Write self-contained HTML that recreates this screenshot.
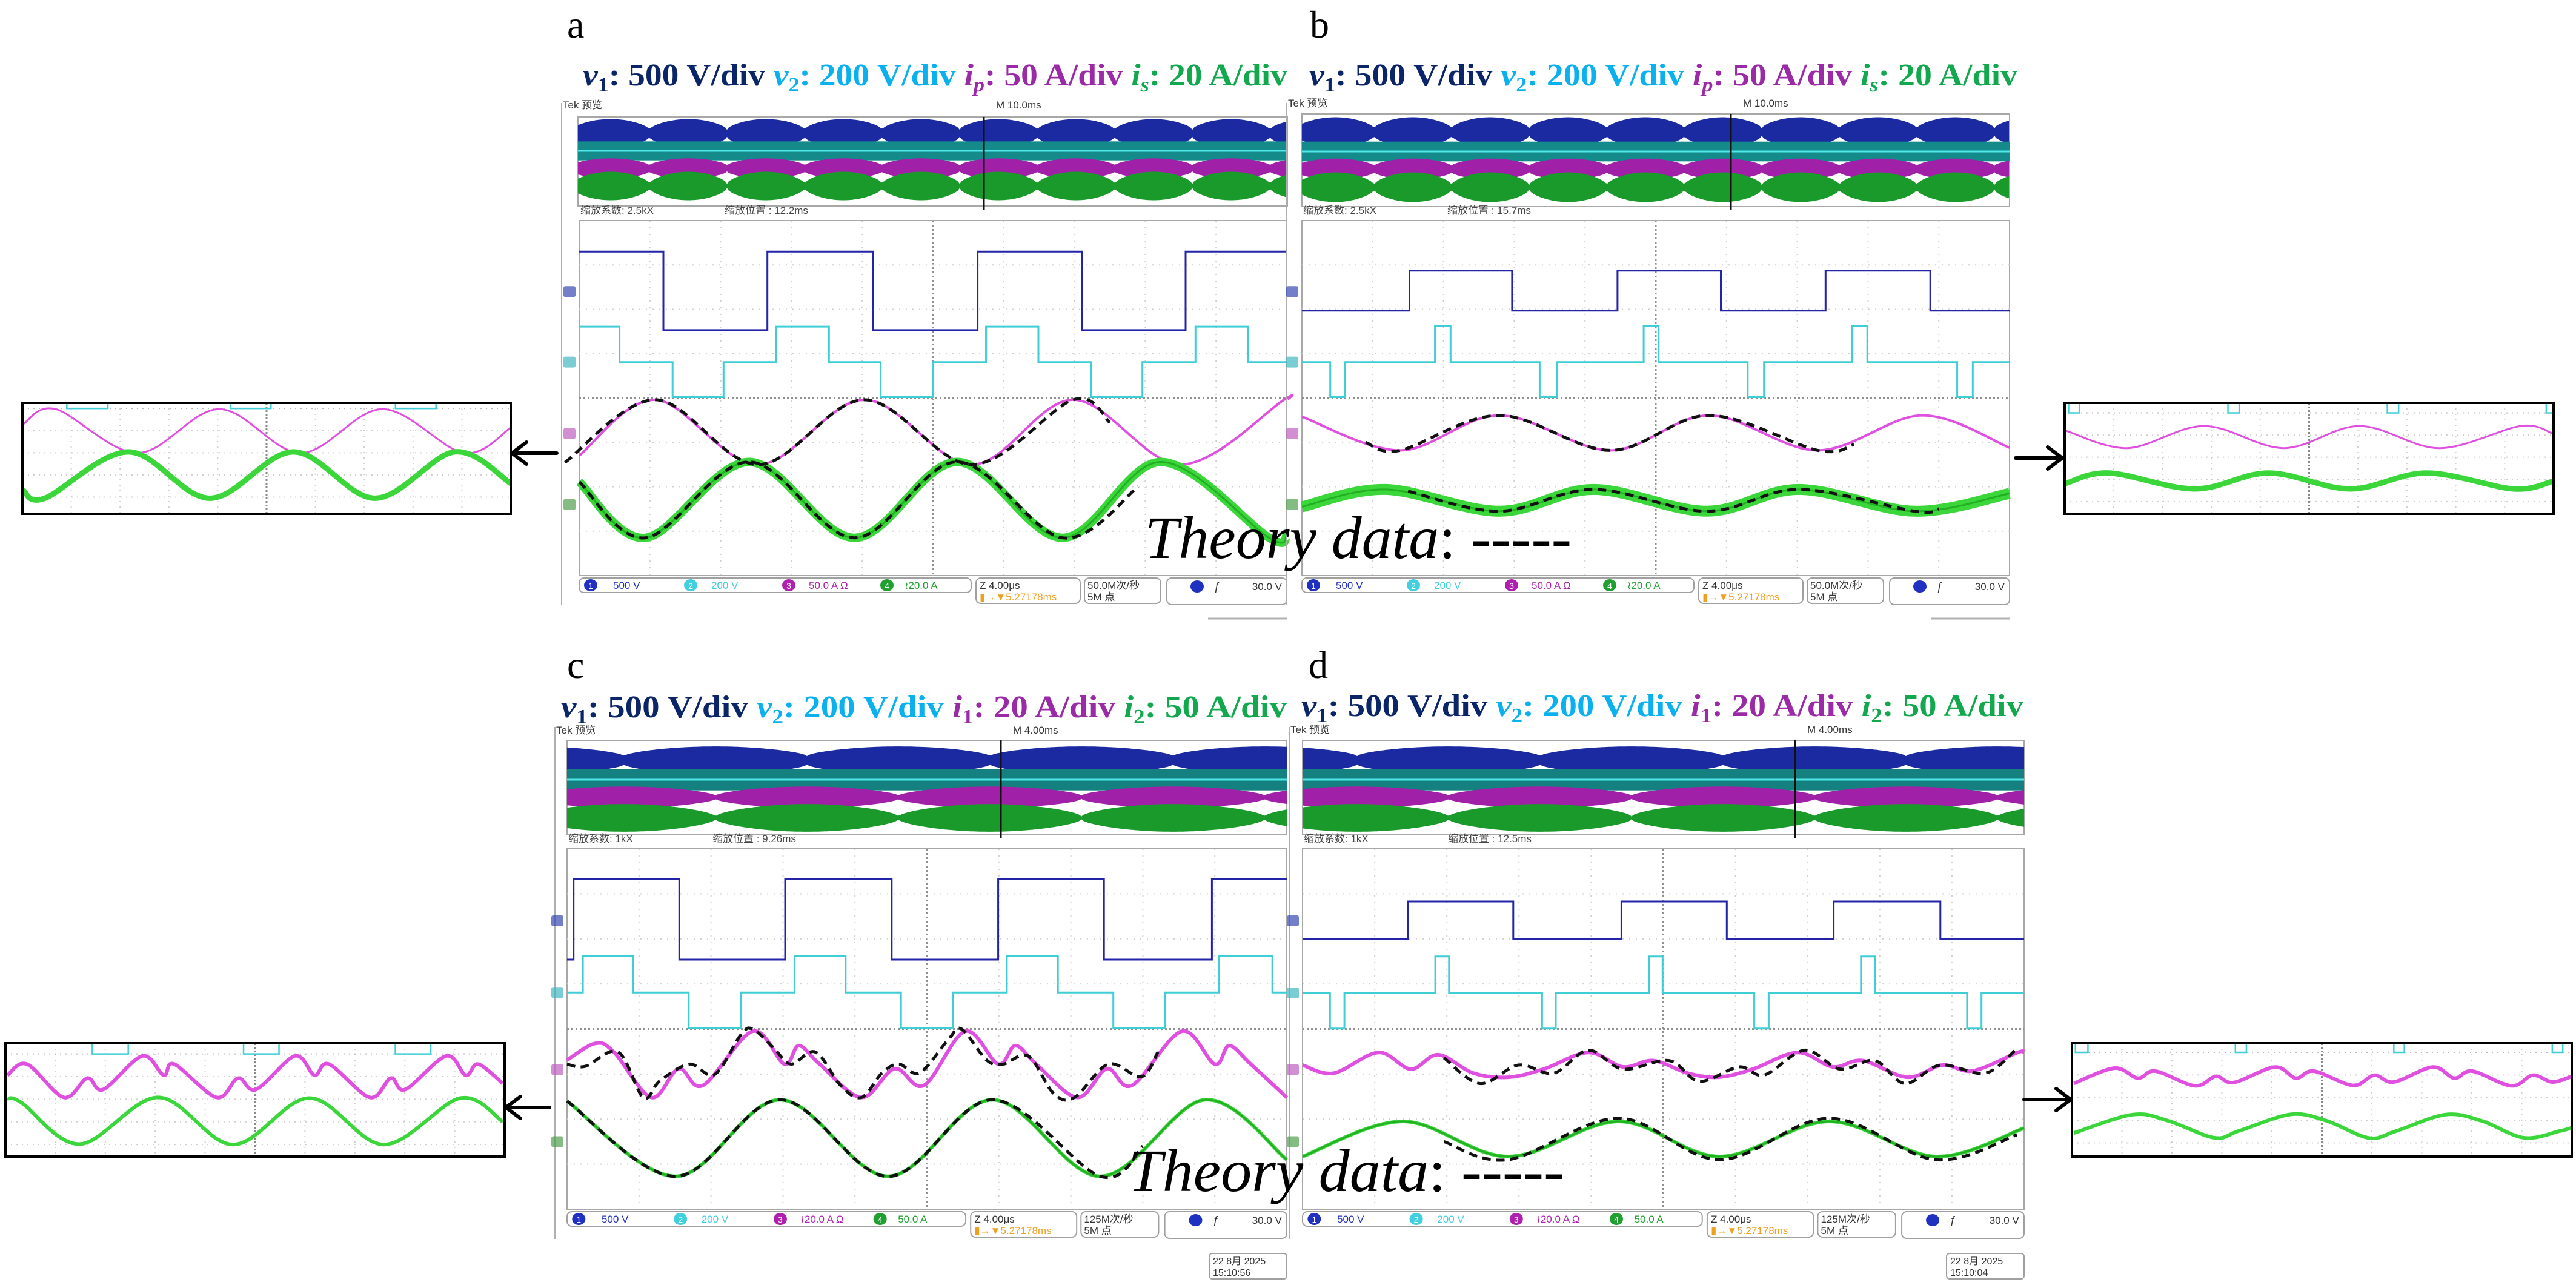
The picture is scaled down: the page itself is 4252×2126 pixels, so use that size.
<!DOCTYPE html>
<html><head><meta charset="utf-8"><title>Oscilloscope waveforms a-d</title>
<style>
html,body{margin:0;padding:0;background:#fff;}
svg{display:block;}
</style></head>
<body>
<svg id="fig" xmlns="http://www.w3.org/2000/svg" width="4252" height="2126" viewBox="0 0 4252 2126">
<rect x="0" y="0" width="4252" height="2126" fill="#fff"/>
<g font-family="'Liberation Serif', serif">
<text x="936" y="62" font-size="64">a</text>
<text x="2162" y="62" font-size="64">b</text>
<text x="936" y="1119" font-size="64">c</text>
<text x="2160" y="1119" font-size="64">d</text>
</g>
<g font-family="'Liberation Serif', serif" font-weight="bold" font-size="52">
<text x="962" y="141" textLength="1163" lengthAdjust="spacingAndGlyphs"><tspan fill="#0b2668" font-style="italic">v</tspan><tspan fill="#0b2668" font-size="34" dy="10">1</tspan><tspan fill="#0b2668" dy="-10">: 500 V/div </tspan><tspan fill="#0bb0ee" font-style="italic">v</tspan><tspan fill="#0bb0ee" font-size="34" dy="10">2</tspan><tspan fill="#0bb0ee" dy="-10">: 200 V/div </tspan><tspan fill="#9a2aa6" font-style="italic">i</tspan><tspan fill="#9a2aa6" font-size="34" font-style="italic" dy="10">p</tspan><tspan fill="#9a2aa6" dy="-10">: 50 A/div </tspan><tspan fill="#12a84e" font-style="italic">i</tspan><tspan fill="#12a84e" font-size="34" font-style="italic" dy="10">s</tspan><tspan fill="#12a84e" dy="-10">: 20 A/div</tspan></text>
<text x="2161" y="141" textLength="1169" lengthAdjust="spacingAndGlyphs"><tspan fill="#0b2668" font-style="italic">v</tspan><tspan fill="#0b2668" font-size="34" dy="10">1</tspan><tspan fill="#0b2668" dy="-10">: 500 V/div </tspan><tspan fill="#0bb0ee" font-style="italic">v</tspan><tspan fill="#0bb0ee" font-size="34" dy="10">2</tspan><tspan fill="#0bb0ee" dy="-10">: 200 V/div </tspan><tspan fill="#9a2aa6" font-style="italic">i</tspan><tspan fill="#9a2aa6" font-size="34" font-style="italic" dy="10">p</tspan><tspan fill="#9a2aa6" dy="-10">: 50 A/div </tspan><tspan fill="#12a84e" font-style="italic">i</tspan><tspan fill="#12a84e" font-size="34" font-style="italic" dy="10">s</tspan><tspan fill="#12a84e" dy="-10">: 20 A/div</tspan></text>
<text x="926" y="1184" textLength="1198" lengthAdjust="spacingAndGlyphs"><tspan fill="#0b2668" font-style="italic">v</tspan><tspan fill="#0b2668" font-size="34" dy="10">1</tspan><tspan fill="#0b2668" dy="-10">: 500 V/div </tspan><tspan fill="#0bb0ee" font-style="italic">v</tspan><tspan fill="#0bb0ee" font-size="34" dy="10">2</tspan><tspan fill="#0bb0ee" dy="-10">: 200 V/div </tspan><tspan fill="#9a2aa6" font-style="italic">i</tspan><tspan fill="#9a2aa6" font-size="34" dy="10">1</tspan><tspan fill="#9a2aa6" dy="-10">: 20 A/div </tspan><tspan fill="#12a84e" font-style="italic">i</tspan><tspan fill="#12a84e" font-size="34" dy="10">2</tspan><tspan fill="#12a84e" dy="-10">: 50 A/div</tspan></text>
<text x="2148" y="1182" textLength="1192" lengthAdjust="spacingAndGlyphs"><tspan fill="#0b2668" font-style="italic">v</tspan><tspan fill="#0b2668" font-size="34" dy="10">1</tspan><tspan fill="#0b2668" dy="-10">: 500 V/div </tspan><tspan fill="#0bb0ee" font-style="italic">v</tspan><tspan fill="#0bb0ee" font-size="34" dy="10">2</tspan><tspan fill="#0bb0ee" dy="-10">: 200 V/div </tspan><tspan fill="#9a2aa6" font-style="italic">i</tspan><tspan fill="#9a2aa6" font-size="34" dy="10">1</tspan><tspan fill="#9a2aa6" dy="-10">: 20 A/div </tspan><tspan fill="#12a84e" font-style="italic">i</tspan><tspan fill="#12a84e" font-size="34" dy="10">2</tspan><tspan fill="#12a84e" dy="-10">: 50 A/div</tspan></text>
</g>
<g id="layer"></g>
<g font-family="'Liberation Serif', serif" font-size="100" fill="#000">
<text x="1890" y="921" textLength="704" lengthAdjust="spacingAndGlyphs"><tspan font-style="italic">Theory data</tspan><tspan>: -----</tspan></text>
<text x="1862" y="1966" textLength="720" lengthAdjust="spacingAndGlyphs"><tspan font-style="italic">Theory data</tspan><tspan>: -----</tspan></text>
</g>
</svg>
<script>
// ===== Data (grid divisions: x 0..10, y 0..8 from top) =====
// Panel a
const aV1T=[0,1.19,2.66,4.15,5.63,7.11,8.57];
const aV1Y=[0.70,2.47,0.70,2.47,0.70,2.47,0.70];
const aV2T=[0,0.57,1.32,2.04,2.78,3.53,4.26,5.0,5.75,6.49,7.23,7.96,8.71,9.45];
const aV2Y=[2.39,3.19,3.98,3.19,2.39,3.19,3.98,3.19,2.39,3.19,3.98,3.19,2.39,3.19];
const aIpX=[0,1.08,2.53,4.03,5.55,6.98,8.5,9.96,10];
const aIpY=[5.3,4.04,5.5,4.04,5.5,4.04,5.5,4.04,4.05];
const aIsX=[0,0.94,2.40,3.89,5.34,6.83,8.22,9.75,10];
const aIsY=[5.89,7.15,5.44,7.15,5.44,7.15,5.44,7.15,7.1];
const aThIpX=[-0.2,1.08,2.53,4.03,5.55,6.98,7.5];
const aThIpY=[5.45,4.04,5.5,4.04,5.5,4.04,4.55];
const aThIsX=[0,0.94,2.40,3.89,5.34,6.83,7.9];
const aThIsY=[5.89,7.15,5.44,7.15,5.44,7.15,6.0];
// Panel b
const bV1T=[0,1.52,2.97,4.46,5.92,7.40,8.88];
const bV1Y=[2.03,1.13,2.03,1.13,2.03,1.13,2.03];
const bV2T=[0,0.40,0.61,1.88,2.10,3.36,3.60,4.83,5.04,6.30,6.53,7.77,7.99,9.26,9.48];
const bV2Y=[3.19,3.98,3.19,2.37,3.19,3.98,3.19,2.37,3.19,3.98,3.19,2.37,3.19,3.98,3.19];
const bIpX=[0,1.39,2.79,4.36,5.75,7.29,8.76,10];
const bIpY=[4.42,5.18,4.39,5.18,4.39,5.18,4.39,5.12];
const bIsX=[0,1.18,2.79,4.12,5.72,7.02,8.66,10];
const bIsY=[6.45,6.06,6.55,6.06,6.55,6.06,6.55,6.15];
const bThIpX=[0.9,1.39,2.79,4.36,5.75,7.29,7.8];
const bThIpY=[5.0,5.18,4.39,5.18,4.39,5.18,5.05];
const bThIsX=[1.5,2.79,4.12,5.72,7.02,8.66,9.0];
const bThIsY=[6.1,6.55,6.06,6.55,6.06,6.55,6.5];
// Panel c
const cV1T=[0,0.09,1.56,3.03,4.51,5.99,7.46,8.96];
const cV1Y=[2.46,0.67,2.46,0.67,2.46,0.67,2.46,0.67];
const cV2T=[0,0.22,0.92,1.69,2.42,3.16,3.87,4.64,5.36,6.11,6.82,7.59,8.31,9.06,9.8];
const cV2Y=[3.19,2.38,3.19,3.98,3.19,2.38,3.19,3.98,3.19,2.38,3.19,3.98,3.19,2.38,3.19];
const cI1X=[0,0.39,0.65,1.17,1.55,1.89,2.58,3.02,3.22,3.51,4.09,4.55,4.96,5.53,5.99,6.23,6.52,7.09,7.5,7.85,8.54,9.0,9.2,9.5,10.0];
const cI1Y=[4.69,4.32,4.51,5.52,4.88,5.25,4.05,4.78,4.37,4.78,5.52,4.88,5.25,4.05,4.78,4.37,4.78,5.52,4.88,5.25,4.05,4.78,4.37,4.78,5.52];
const cThI1X=[0,0.25,0.71,1.06,1.29,1.70,2.05,2.41,2.58,2.87,3.11,3.45,3.80,4.09,4.38,4.61,4.90,5.30,5.48,5.83,6.06,6.41,6.76,7.05,7.52,7.98,8.21];
const cThI1Y=[4.78,4.83,4.51,5.52,5.15,4.78,5.01,4.14,4.0,4.42,4.78,4.51,5.25,5.52,4.97,4.78,4.97,4.23,4.0,4.69,4.78,4.6,5.43,5.52,4.78,5.06,4.51];
const cI2X=[0,1.51,2.96,4.46,5.91,7.41,8.86,10];
const cI2Y=[5.6,7.27,5.57,7.27,5.57,7.27,5.57,6.9];
const cThI2X=[0,1.51,2.96,4.46,5.91,7.41,8.0];
const cThI2Y=[5.6,7.27,5.57,7.27,5.57,7.27,6.6];
// Panel d
const dV1T=[0,1.46,2.92,4.42,5.88,7.36,8.84];
const dV1Y=[2.0,1.17,2.0,1.17,2.0,1.17,2.0];
const dV2T=[0,0.38,0.58,1.84,2.03,3.32,3.51,4.80,4.99,6.26,6.46,7.74,7.93,9.21,9.41];
const dV2Y=[3.2,3.99,3.2,2.39,3.2,3.99,3.2,2.39,3.2,3.99,3.2,2.39,3.2,3.99,3.2];
const dI1X=[0,0.43,1.05,1.50,1.88,2.37,2.85,3.34,3.96,4.44,4.86,5.34,5.76,6.24,6.86,7.35,7.76,8.38,8.87,9.29,9.91,10];
const dI1Y=[4.80,4.98,4.52,4.89,4.57,4.98,5.07,4.89,4.52,4.84,4.70,4.98,5.07,4.89,4.52,4.84,4.70,5.07,4.80,4.93,4.52,4.52];
const dThI1X=[1.96,2.46,2.99,3.48,3.96,4.44,5.08,5.50,6.05,6.40,6.96,7.45,7.93,8.35,8.84,9.46,9.88];
const dThI1Y=[4.64,5.21,4.80,4.98,4.47,4.89,4.70,5.16,4.84,5.02,4.47,4.89,4.70,5.21,4.80,4.98,4.47];
const dI2X=[0,1.39,2.85,4.38,5.78,7.30,8.77,10];
const dI2Y=[6.83,6.05,6.83,6.05,6.83,6.05,6.83,6.2];
const dThI2X=[1.96,2.85,4.38,5.78,7.30,8.77,9.9];
const dThI2Y=[6.5,6.9,5.98,6.9,5.98,6.9,6.35];
// Insets (divisions: x 0..10, y 0..5)
const aInsPX=[0.02,0.68,2.36,4.03,5.7,7.37,9.04,10];
const aInsPY=[0.95,0.28,2.26,0.28,2.26,0.28,2.26,1.12];
const aInsGX=[0.02,0.46,2.17,3.84,5.55,7.22,8.85,10];
const aInsGY=[3.96,4.3,2.21,4.3,2.21,4.3,2.21,3.63];
const aInsCS=[0.91,4.26,7.64];
const aInsCE=[1.75,5.09,8.47];
const aInsCL=[0.25,0.25,0.25];
const bInsPX=[0.02,1.29,2.85,4.48,6.03,7.66,9.33,9.98];
const bInsPY=[1.25,2.04,1.04,2.04,1.04,2.04,1.04,1.38];
const bInsGX=[0.02,0.91,2.66,4.17,5.84,7.4,9.18,9.98];
const bInsGY=[3.63,3.16,3.88,3.16,3.88,3.16,3.88,3.54];
const bInsCS=[0.08,3.34,6.6,9.85];
const bInsCE=[0.3,3.57,6.83,9.98];
const bInsCL=[0.45,0.45,0.45,0.45];
const cInsPX=[0.04,0.43,1.17,1.64,1.96,2.74,3.17,3.38,4.23,4.66,5.02,5.8,6.19,6.48,7.3,7.72,8.01,8.83,9.22,9.47,9.96];
const cInsPY=[1.41,0.92,2.39,1.54,2.04,0.56,1.41,0.92,2.39,1.54,2.04,0.56,1.41,0.92,2.39,1.54,2.04,0.56,1.41,0.92,1.77];
const cInsGX=[0.04,0.32,1.49,3.06,4.56,6.09,7.58,9.11,9.96];
const cInsGY=[2.44,2.62,4.45,2.39,4.47,2.42,4.47,2.42,3.46];
const cInsCS=[1.74,4.77,7.81];
const cInsCE=[2.46,5.48,8.52];
const cInsCL=[0.47,0.47,0.47];
const dInsPX=[0.04,0.85,1.32,1.67,2.46,2.88,3.24,4.06,4.48,4.84,5.62,6.05,6.44,7.22,7.65,8.01,8.79,9.22,9.61,10];
const dInsPY=[1.77,1.10,1.54,1.23,1.88,1.46,1.73,1.05,1.54,1.23,1.86,1.41,1.71,1.05,1.54,1.23,1.88,1.41,1.71,1.46];
const dInsGX=[0.04,1.21,1.92,2.85,3.35,4.38,5.09,5.94,6.48,7.47,8.19,9.04,9.75,10];
const dInsGY=[3.96,3.15,3.42,4.17,3.86,3.14,3.42,4.18,3.88,3.15,3.42,4.17,3.88,3.73];
const dInsCS=[0.07,3.27,6.44,9.61];
const dInsCE=[0.32,3.49,6.65,9.82];
const dInsCL=[0.40,0.40,0.40,0.40];

// ===== rendering =====
const NS='http://www.w3.org/2000/svg';
const layer=document.getElementById('layer');
function mk(tag,attrs,parent){const e=document.createElementNS(NS,tag);for(const k in attrs)e.setAttribute(k,attrs[k]);(parent||layer).appendChild(e);return e;}
function crPath(pts){
  let d='M'+pts[0][0].toFixed(1)+','+pts[0][1].toFixed(1);
  for(let i=0;i<pts.length-1;i++){
    const p0=pts[Math.max(0,i-1)],p1=pts[i],p2=pts[i+1],p3=pts[Math.min(pts.length-1,i+2)];
    const c1=[p1[0]+(p2[0]-p0[0])/6,p1[1]+(p2[1]-p0[1])/6];
    const c2=[p2[0]-(p3[0]-p1[0])/6,p2[1]-(p3[1]-p1[1])/6];
    d+=' C'+c1[0].toFixed(1)+','+c1[1].toFixed(1)+' '+c2[0].toFixed(1)+','+c2[1].toFixed(1)+' '+p2[0].toFixed(1)+','+p2[1].toFixed(1);
  }
  return d;
}
function axes(gx,gy,gw,gh,nx,ny){return {x:v=>gx+v*gw/nx,y:v=>gy+v*gh/ny};}

const COL={v1:'#2424a8',v2:'#3fcdd6',ip:'#e050e0',is:'#3ad63a',isDark:'#22b022'};

const PANELS=[
 {id:'a',gx:956,gy:364,gw:1168,gh:586,frameX:927,top:170,ov:{x0:954,x1:2125,y0:193,y1:340,rows:[220,249,278,307],per:128,ph:944,long:false},mark:1624,tekY:179,zoomY:353,bar:954,M:'M 10.0ms',zf:'2.5kX',zp:'12.2ms',rate:'50.0M次/秒',c3:'50.0 A Ω',c4:'≀20.0 A',date:null,
  v1:[aV1T,aV1Y],v2:[aV2T,aV2Y],i1:[aIpX,aIpY],i2:[aIsX,aIsY],t1:[aThIpX,aThIpY],t2:[aThIsX,aThIsY],mk:[1.6,3.19,4.8,6.4],noisy:true},
 {id:'b',gx:2149,gy:364,gw:1168,gh:586,frameX:2124,top:170,ov:{x0:2149,x1:3317,y0:188,y1:341,rows:[218,250,279,309],per:128,ph:2140,long:false},mark:2857,tekY:176,zoomY:353,bar:954,M:'M 10.0ms',zf:'2.5kX',zp:'15.7ms',rate:'50.0M次/秒',c3:'50.0 A Ω',c4:'≀20.0 A',date:null,
  v1:[bV1T,bV1Y],v2:[bV2T,bV2Y],i1:[bIpX,bIpY],i2:[bIsX,bIsY],t1:[bThIpX,bThIpY],t2:[bThIsX,bThIsY],mk:[1.6,3.19,4.8,6.4],noisy:true},
 {id:'c',gx:936,gy:1401,gw:1188,gh:595,frameX:916,top:1200,ov:{x0:936,x1:2124,y0:1222,y1:1378,rows:[1255,1287,1316,1350],per:302,ph:1030,long:true},mark:1652,tekY:1211,zoomY:1390,bar:2000,M:'M 4.00ms',zf:'1kX',zp:'9.26ms',rate:'125M次/秒',c3:'≀20.0 A Ω',c4:'50.0 A',date:'15:10:56',
  v1:[cV1T,cV1Y],v2:[cV2T,cV2Y],i1:[cI1X,cI1Y],i2:[cI2X,cI2Y],t1:[cThI1X,cThI1Y],t2:[cThI2X,cThI2Y],mk:[1.6,3.19,4.9,6.5],noisy:false},
 {id:'d',gx:2150,gy:1401,gw:1191,gh:595,frameX:2128,top:1200,ov:{x0:2150,x1:3341,y0:1222,y1:1378,rows:[1255,1287,1316,1350],per:302,ph:2240,long:true},mark:2963,tekY:1210,zoomY:1390,bar:2000,M:'M 4.00ms',zf:'1kX',zp:'12.5ms',rate:'125M次/秒',c3:'≀20.0 A Ω',c4:'50.0 A',date:'15:10:04',
  v1:[dV1T,dV1Y],v2:[dV2T,dV2Y],i1:[dI1X,dI1Y],i2:[dI2X,dI2Y],t1:[dThI1X,dThI1Y],t2:[dThI2X,dThI2Y],mk:[1.6,3.2,4.9,6.5],noisy:false}
];

function lobe(g,x0,x1,yc,amp,per,ph,minF,color,name){
  let top=[],bot=[];
  for(let x=x0;x<=x1;x+=3){
    const s=Math.abs(Math.sin(Math.PI*(x-ph)/per));
    const a=amp*(minF+(1-minF)*Math.pow(s,0.6));
    top.push(x.toFixed(0)+','+(yc-a).toFixed(1));bot.unshift(x.toFixed(0)+','+(yc+a).toFixed(1));
  }
  const p=mk('polygon',{points:top.concat(bot).join(' '),fill:color},g);
  
  
}

function stepPath(ax,T,Y){
  let d='M'+ax.x(T[0]).toFixed(1)+','+ax.y(Y[0]).toFixed(1);
  for(let i=1;i<T.length;i++){d+=' H'+ax.x(T[i]).toFixed(1)+' V'+ax.y(Y[i]).toFixed(1);}
  d+=' H'+ax.x(10).toFixed(1);
  return d;
}
function pts(ax,X,Y){return X.map((v,i)=>[ax.x(v),ax.y(Y[i])]);}

function txt(g,x,y,s,size,color,name,anchor){
  const t=mk('text',{x:x,y:y,'font-size':size,fill:color,'font-family':"'Liberation Sans','Noto Sans CJK SC',sans-serif"},g);
  if(anchor)t.setAttribute('text-anchor',anchor);
  t.textContent=s;
  
  
  return t;
}

PANELS.forEach(P=>{
  const g=mk('g',{});
  
  
  const ax=axes(P.gx,P.gy,P.gw,P.gh,10,8);
  const fl=mk('line',{x1:P.frameX,y1:P.top,x2:P.frameX,y2:P.bar+45,stroke:'#b0b0b0','stroke-width':2},g);
  
  
  txt(g,P.frameX+2,P.tekY,'Tek 预览',17,'#333','tek-label-'+P.id);
  txt(g,P.mark+20,P.tekY,P.M,17,'#333','timebase-'+P.id);
  const o=P.ov;
  const ob=mk('rect',{x:o.x0,y:o.y0,width:o.x1-o.x0,height:o.y1-o.y0,fill:'#fff',stroke:'#a8a8a8','stroke-width':2},g);
  
  
  const hs=(o.y1-o.y0)/150;
  if(!o.long){
    lobe(g,o.x0,o.x1,o.rows[0],24*hs,o.per,o.ph,0.25,'#1b2aa0','overview-v1');
    const tb=mk('rect',{x:o.x0,y:o.rows[1]-16*hs,width:o.x1-o.x0,height:32*hs,fill:'#148a8a'},g);
    
    
    lobe(g,o.x0,o.x1,o.rows[2],17*hs,o.per,o.ph,0.3,'#a020a8','overview-i1');
    lobe(g,o.x0,o.x1,o.rows[3],24*hs,o.per,o.ph,0.15,'#1a9a2a','overview-i2');
  } else {
    lobe(g,o.x0,o.x1,o.rows[0],22*hs,o.per,o.ph,0.3,'#1b2aa0','overview-v1');
    const tb=mk('rect',{x:o.x0,y:o.rows[1]-17*hs,width:o.x1-o.x0,height:34*hs,fill:'#148080'},g);
    
    
    lobe(g,o.x0,o.x1,o.rows[2],17*hs,o.per,o.ph+o.per/2,0.15,'#a020a8','overview-i1');
    lobe(g,o.x0,o.x1,o.rows[3],22*hs,o.per,o.ph+o.per/2,0.1,'#1a9a2a','overview-i2');
  }
  const cl=mk('line',{x1:o.x0,x2:o.x1,y1:o.rows[1],y2:o.rows[1],stroke:'#4ee8e8','stroke-width':3},g);
  
  
  const ml=mk('line',{x1:P.mark,x2:P.mark,y1:o.y0,y2:o.y1+6,stroke:'#111','stroke-width':3},g);
  
  
  txt(g,P.gx+2,P.zoomY,'缩放系数: '+P.zf,17,'#444','zoom-factor-'+P.id);
  txt(g,P.gx+240,P.zoomY,'缩放位置 :  '+P.zp,17,'#444','zoom-position-'+P.id);
  const gb=mk('rect',{x:P.gx,y:P.gy,width:P.gw,height:P.gh,fill:'#fff',stroke:'#a8a8a8','stroke-width':2},g);
  
  
  for(let i=1;i<10;i++){
    const c=i===5;
    const l=mk('line',{x1:ax.x(i),x2:ax.x(i),y1:P.gy,y2:P.gy+P.gh,stroke:c?'#909090':'#cfcfcf','stroke-width':c?3:2,'stroke-dasharray':c?'3 4':'2 9'},g);
    
    
  }
  for(let j=1;j<8;j++){
    const c=j===4;
    const l=mk('line',{x1:P.gx,x2:P.gx+P.gw,y1:ax.y(j),y2:ax.y(j),stroke:c?'#909090':'#cfcfcf','stroke-width':c?3:2,'stroke-dasharray':c?'3 4':'2 9'},g);
    
    
  }
  const mcols=['#3848b0','#40b8c0','#c060c0','#50a050'];
  P.mk.forEach((m,k)=>{
    const r=mk('rect',{x:P.gx-26,y:ax.y(m)-9,width:20,height:18,rx:3,fill:mcols[k],opacity:0.7},g);
    
    
  });
  const t1=mk('path',{d:stepPath(ax,P.v1[0],P.v1[1]),fill:'none',stroke:COL.v1,'stroke-width':3},g);
  
  
  const t2=mk('path',{d:stepPath(ax,P.v2[0],P.v2[1]),fill:'none',stroke:COL.v2,'stroke-width':3},g);
  
  
  const i1=mk('path',{d:crPath(pts(ax,P.i1[0],P.i1[1])),fill:'none',stroke:COL.ip,'stroke-width':(P.id==='c'||P.id==='d')?6:4},g);
  
  
  const i2=mk('path',{d:crPath(pts(ax,P.i2[0],P.i2[1])),fill:'none',stroke:COL.is,'stroke-width':P.noisy?(P.id==='a'?14:18):6},g);
  
  
  const i2c=mk('path',{d:crPath(pts(ax,P.i2[0],P.i2[1])),fill:'none',stroke:COL.isDark,'stroke-width':3},g);
  
  
  const th1=mk('path',{d:crPath(pts(ax,P.t1[0],P.t1[1])),fill:'none',stroke:'#111','stroke-width':5,'stroke-dasharray':'14 9'},g);
  
  
  const th2=mk('path',{d:crPath(pts(ax,P.t2[0],P.t2[1])),fill:'none',stroke:'#111','stroke-width':5,'stroke-dasharray':'14 9'},g);
  
  
  const s=P.gw/1168, B=P.bar;
  const boxes=[[0,647,24],[655,827,42],[834,960,42],[970,1168,44]];
  boxes.forEach((bx,k)=>{
    const r=mk('rect',{x:P.gx+bx[0]*s,y:B,width:(bx[1]-bx[0])*s,height:bx[2],rx:8,fill:'#fff',stroke:'#a0a0a0','stroke-width':2},g);
    
    
  });
  const chs=[[19,56,'1','500 V','#2030c0'],[184,218,'2','200 V','#40d0e0'],[346,379,'3',P.c3,'#b020b0'],[508,537,'4',P.c4,'#20a030']];
  chs.forEach(c=>{
    const e=mk('ellipse',{cx:P.gx+c[0]*s,cy:B+12,rx:11,ry:10,fill:c[4]},g);
    
    
    txt(g,P.gx+c[0]*s,B+18,c[2],14,'#fff','channel-number-'+c[2],'middle');
    txt(g,P.gx+c[1]*s,B+18,c[3],17,c[4],'channel-scale-'+c[2]);
  });
  txt(g,P.gx+661*s,B+18,'Z 4.00μs',17,'#333','zoom-timebase');
  txt(g,P.gx+661*s,B+37,'▮→▼5.27178ms',17,'#f0a020','trigger-position');
  txt(g,P.gx+839*s,B+18,P.rate,17,'#333','sample-rate');
  txt(g,P.gx+839*s,B+37,'5M 点',17,'#333','record-length');
  const te=mk('ellipse',{cx:P.gx+1020*s,cy:B+14,rx:11,ry:10,fill:'#2030c0'},g);
  
  
  txt(g,P.gx+1048*s,B+20,'ƒ',18,'#333','trigger-slope');
  txt(g,P.gx+1160*s,B+20,'30.0 V',17,'#333','trigger-level','end');
  if(P.date){
    const dr=mk('rect',{x:P.gx+P.gw-128,y:2069,width:128,height:42,rx:5,fill:'#fff',stroke:'#a0a0a0','stroke-width':2},g);
    
    
    txt(g,P.gx+P.gw-122,2087,'22 8月  2025',16,'#333','date-text');
    txt(g,P.gx+P.gw-122,2106,P.date,16,'#333','time-text');
  } else {
    const sl=mk('line',{x1:P.gx+P.gw-130,x2:P.gx+P.gw,y1:1021,y2:1021,stroke:'#b0b0b0','stroke-width':3},g);
    
    
  }
});

const INSETS=[
 {id:'a',x:37,y:665,w:806,h:183,P:[aInsPX,aInsPY],G:[aInsGX,aInsGY],C:[aInsCS,aInsCE,aInsCL],arrow:[919,845,748]},
 {id:'b',x:3408,y:665,w:807,h:183,P:[bInsPX,bInsPY],G:[bInsGX,bInsGY],C:[bInsCS,bInsCE,bInsCL],arrow:[3327,3404,756]},
 {id:'c',x:9,y:1722,w:824,h:187,P:[cInsPX,cInsPY],G:[cInsGX,cInsGY],C:[cInsCS,cInsCE,cInsCL],arrow:[907,835,1828]},
 {id:'d',x:3420,y:1722,w:825,h:187,P:[dInsPX,dInsPY],G:[dInsGX,dInsGY],C:[dInsCS,dInsCE,dInsCL],arrow:[3341,3418,1815]}
];
INSETS.forEach(I=>{
  const g=mk('g',{});
  
  
  const ax=axes(I.x,I.y,I.w,I.h,10,5);
  const bg=mk('rect',{x:I.x,y:I.y,width:I.w,height:I.h,fill:'#fff'},g);
  
  
  for(let i=1;i<10;i++){
    const c=i===5;
    const l=mk('line',{x1:ax.x(i),x2:ax.x(i),y1:I.y,y2:I.y+I.h,stroke:c?'#888':'#d0d0d0','stroke-width':c?3:2,'stroke-dasharray':c?'3 3':'2 7'},g);
    
    
  }
  for(let j=0;j<5;j++){
    const yy=ax.y(I.C[2][0])+j*(I.h/5);
    const l=mk('line',{x1:I.x,x2:I.x+I.w,y1:yy,y2:yy,stroke:j===0?'#b8b8b8':'#d0d0d0','stroke-width':2,'stroke-dasharray':'2 7'},g);
    
    
  }
  I.C[0].forEach((s0,k)=>{
    const x0=ax.x(s0),x1=ax.x(I.C[1][k]),yl=ax.y(I.C[2][k]);
    const p=mk('path',{d:'M'+x0+','+(I.y+2)+' V'+yl+' H'+x1+' V'+(I.y+2),fill:'none',stroke:COL.v2,'stroke-width':2.5},g);
    
    
  });
  const ip=mk('path',{d:crPath(pts(ax,I.P[0],I.P[1])),fill:'none',stroke:COL.ip,'stroke-width':(I.id==='c'||I.id==='d')?6:3},g);
  
  
  const is=mk('path',{d:crPath(pts(ax,I.G[0],I.G[1])),fill:'none',stroke:COL.is,'stroke-width':(I.id==='c'||I.id==='d')?6:9},g);
  
  
  const fr=mk('rect',{x:I.x,y:I.y,width:I.w,height:I.h,fill:'none',stroke:'#000','stroke-width':4},g);
  
  
  const [xa,xb,ya]=I.arrow; const dir=Math.sign(xb-xa);
  const ar=mk('path',{d:'M'+xa+','+ya+' H'+xb+' M'+(xb-dir*24)+','+(ya-18)+' L'+xb+','+ya+' L'+(xb-dir*24)+','+(ya+18),fill:'none',stroke:'#000','stroke-width':6,'stroke-linecap':'round','stroke-linejoin':'round'},g);
  
  
});
</script>
</body></html>
